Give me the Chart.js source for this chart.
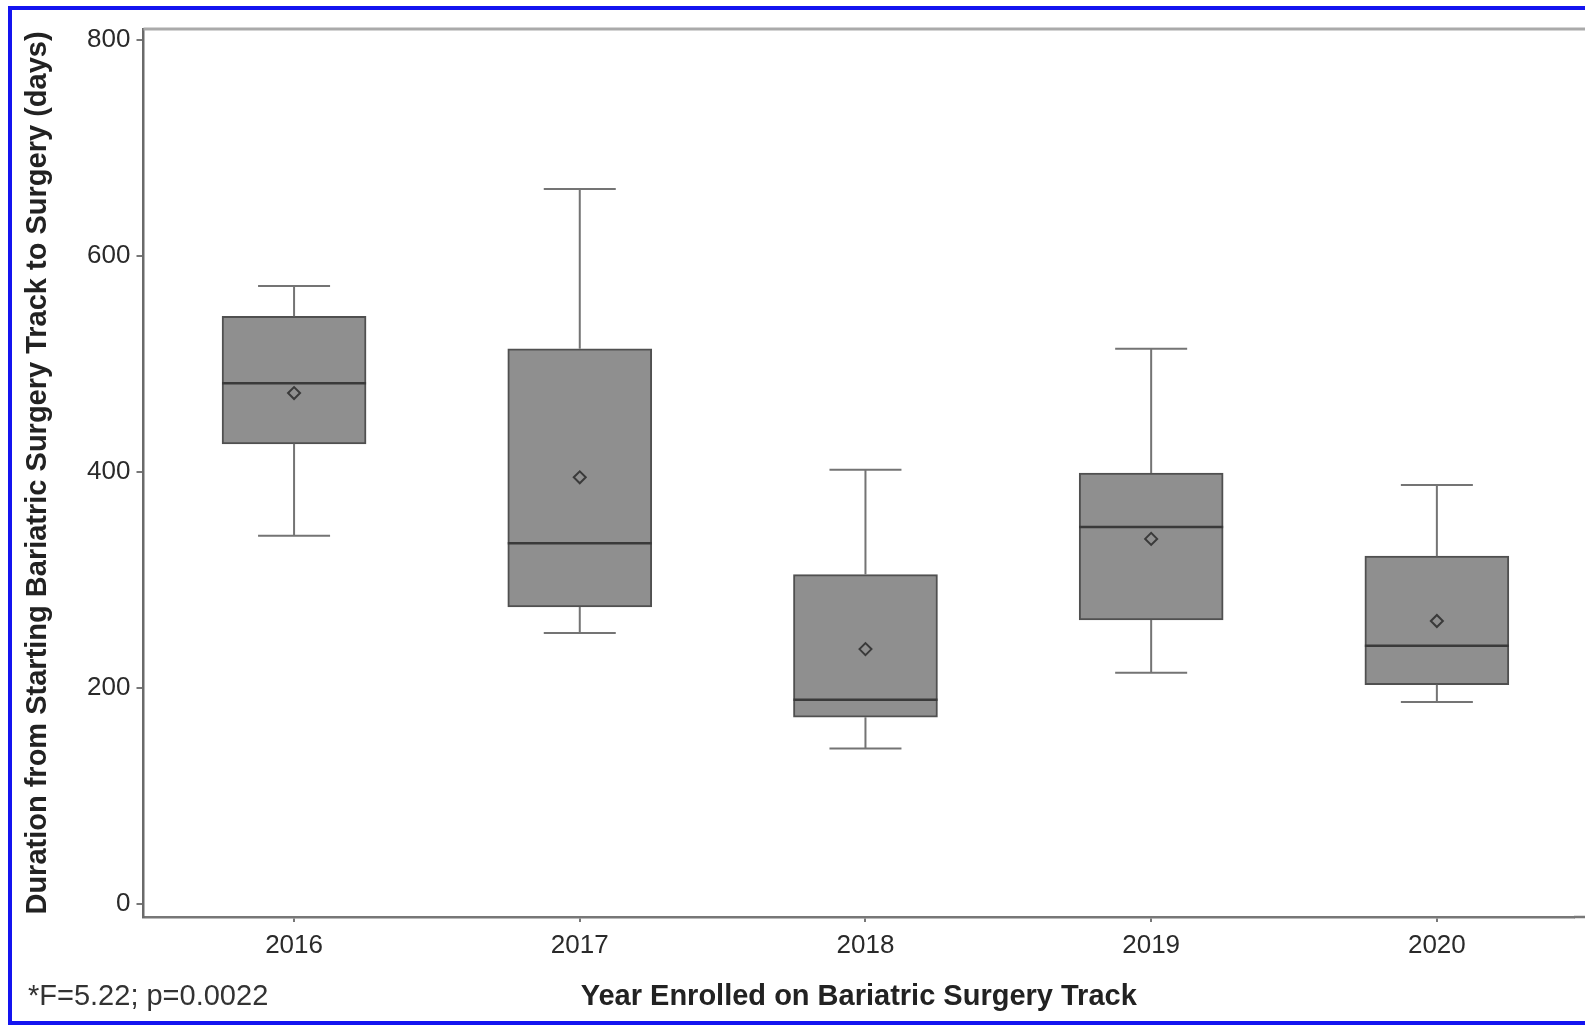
<!DOCTYPE html>
<html>
<head>
<meta charset="utf-8">
<script src="https://cdn.jsdelivr.net/npm/chart.js@4.4.1/dist/chart.umd.min.js"></script>
<style>
  html, body { margin: 0; padding: 0; background: #fff; overflow: hidden; }
  #wrap { position: absolute; left: 0; top: 0; width: 1585px; height: 1025px; }
  #frame { position: absolute; left: 8px; top: 6px; width: 1700px; height: 1019px;
           border: 4px solid #1414f0; box-sizing: border-box; pointer-events: none; }
</style>
</head>
<body>
<div id="wrap"><canvas id="myChart"></canvas></div>
<div id="frame"></div>
<script>
// box plot values (days)
var years = [2016, 2017, 2018, 2019, 2020];
var whiskerLow = [341, 251, 144, 214, 187];
var q1 = [426, 275, 173, 263, 203];
var median = [482, 334, 189, 349, 239];
var q3 = [544, 514, 305, 399, 322];
var whiskerHigh = [572, 662, 402, 514, 388];
var means = [473, 395, 236, 338, 262];
var yTicks = [0, 200, 400, 600, 800];
var footnote = '*F=5.22; p=0.0022';

var BOX_W = 144;

// whiskers, caps, medians, frame and footnote
var boxExtras = {
    id: 'boxExtras',
    afterDatasetsDraw: function(chart){
        var ctx = chart.ctx;
        var xs = chart.scales.x, ys = chart.scales.y;
        var area = chart.chartArea;
        ctx.save();
        ctx.lineCap = 'butt';
        for (var i = 0; i < years.length; i++) {
            var x = xs.getPixelForValue(years[i]);
            var half = BOX_W / 2, cap = BOX_W / 4;
            ctx.strokeStyle = '#747474';
            ctx.lineWidth = 2;
            ctx.beginPath();
            ctx.moveTo(x, ys.getPixelForValue(q3[i]));
            ctx.lineTo(x, ys.getPixelForValue(whiskerHigh[i]));
            ctx.moveTo(x - cap, ys.getPixelForValue(whiskerHigh[i]));
            ctx.lineTo(x + cap, ys.getPixelForValue(whiskerHigh[i]));
            ctx.moveTo(x, ys.getPixelForValue(q1[i]));
            ctx.lineTo(x, ys.getPixelForValue(whiskerLow[i]));
            ctx.moveTo(x - cap, ys.getPixelForValue(whiskerLow[i]));
            ctx.lineTo(x + cap, ys.getPixelForValue(whiskerLow[i]));
            ctx.stroke();
            ctx.strokeStyle = '#3a3a3a';
            ctx.lineWidth = 2.5;
            ctx.beginPath();
            ctx.moveTo(x - half, ys.getPixelForValue(median[i]));
            ctx.lineTo(x + half, ys.getPixelForValue(median[i]));
            ctx.stroke();
        }
        // top frame line and the rest of the bottom axis past the chart area
        ctx.strokeStyle = '#aaaaaa';
        ctx.lineWidth = 3;
        ctx.beginPath();
        ctx.moveTo(area.left, area.top);
        ctx.lineTo(chart.width, area.top);
        ctx.stroke();
        ctx.strokeStyle = '#777777';
        ctx.lineWidth = 2.5;
        ctx.beginPath();
        ctx.moveTo(area.right, area.bottom);
        ctx.lineTo(chart.width, area.bottom);
        ctx.stroke();
        ctx.fillStyle = '#333';
        ctx.font = '29px "Liberation Sans", Arial, sans-serif';
        ctx.textBaseline = 'middle';
        ctx.textAlign = 'left';
        ctx.fillText(footnote, 28, 997);
        ctx.restore();
    }
};

var boxes = years.map(function(y, i){ return {x: y, y: [q1[i], q3[i]]}; });
var meanPts = years.map(function(y, i){ return {x: y, y: means[i]}; });

var ctx = document.getElementById('myChart').getContext('2d');
var myChart = new Chart(ctx, {
    type: 'bar',
    data: {
        datasets: [{
            type: 'scatter',
            data: meanPts,
            order: 0,
            showLine: false,
            pointStyle: 'rectRot',
            pointRadius: 6,
            pointBackgroundColor: '#8f8f8f',
            pointBorderColor: '#3a3a3a',
            pointBorderWidth: 2
        }, {
            type: 'bar',
            data: boxes,
            order: 1,
            backgroundColor: '#8f8f8f',
            borderColor: '#505050',
            borderWidth: 2,
            borderSkipped: false,
            barThickness: BOX_W
        }]
    },
    plugins: [boxExtras],
    options: {
        responsive: true,
        maintainAspectRatio: false,
        animation: false,
        layout: { padding: { left: 0, top: 29, right: 11, bottom: 0 } },
        plugins: { legend: { display: false }, tooltip: { enabled: false } },
        scales: {
            x: {
                type: 'linear',
                offset: false,
                min: 2015.473,
                max: 2020.48,
                afterBuildTicks: function(scale){ scale.ticks = years.map(function(v){ return {value: v}; }); },
                afterFit: function(scale){ scale.height = 108; },
                grid: { offset: false, drawOnChartArea: false, tickLength: 5, color: '#777', lineWidth: 2 },
                border: { color: '#777', width: 2.5 },
                ticks: {
                    color: '#2a2a2a',
                    padding: 8,
                    maxRotation: 0,
                    font: { family: '"Liberation Sans", Arial, sans-serif', size: 26 },
                    callback: function(v){ return String(v); }
                },
                title: {
                    display: true,
                    text: 'Year Enrolled on Bariatric Surgery Track',
                    color: '#222',
                    padding: { top: 0, bottom: 11 },
                    font: { family: '"Liberation Sans", Arial, sans-serif', size: 29, weight: 'bold' }
                }
            },
            y: {
                type: 'linear',
                min: -12,
                max: 810,
                afterBuildTicks: function(scale){ scale.ticks = yTicks.map(function(v){ return {value: v}; }); },
                afterFit: function(scale){ scale.width = 143.5; },
                grid: { drawOnChartArea: false, tickLength: 7, color: '#777', lineWidth: 2 },
                border: { color: '#6a6a6a', width: 2.5 },
                ticks: {
                    color: '#2a2a2a',
                    padding: 6,
                    font: { family: '"Liberation Sans", Arial, sans-serif', size: 26 }
                },
                title: {
                    display: true,
                    text: 'Duration from Starting Bariatric Surgery Track to Surgery (days)',
                    color: '#222',
                    padding: { top: 21, bottom: 0 },
                    font: { family: '"Liberation Sans", Arial, sans-serif', size: 29, weight: 'bold' }
                }
            }
        }
    }
});
</script>
</body>
</html>
